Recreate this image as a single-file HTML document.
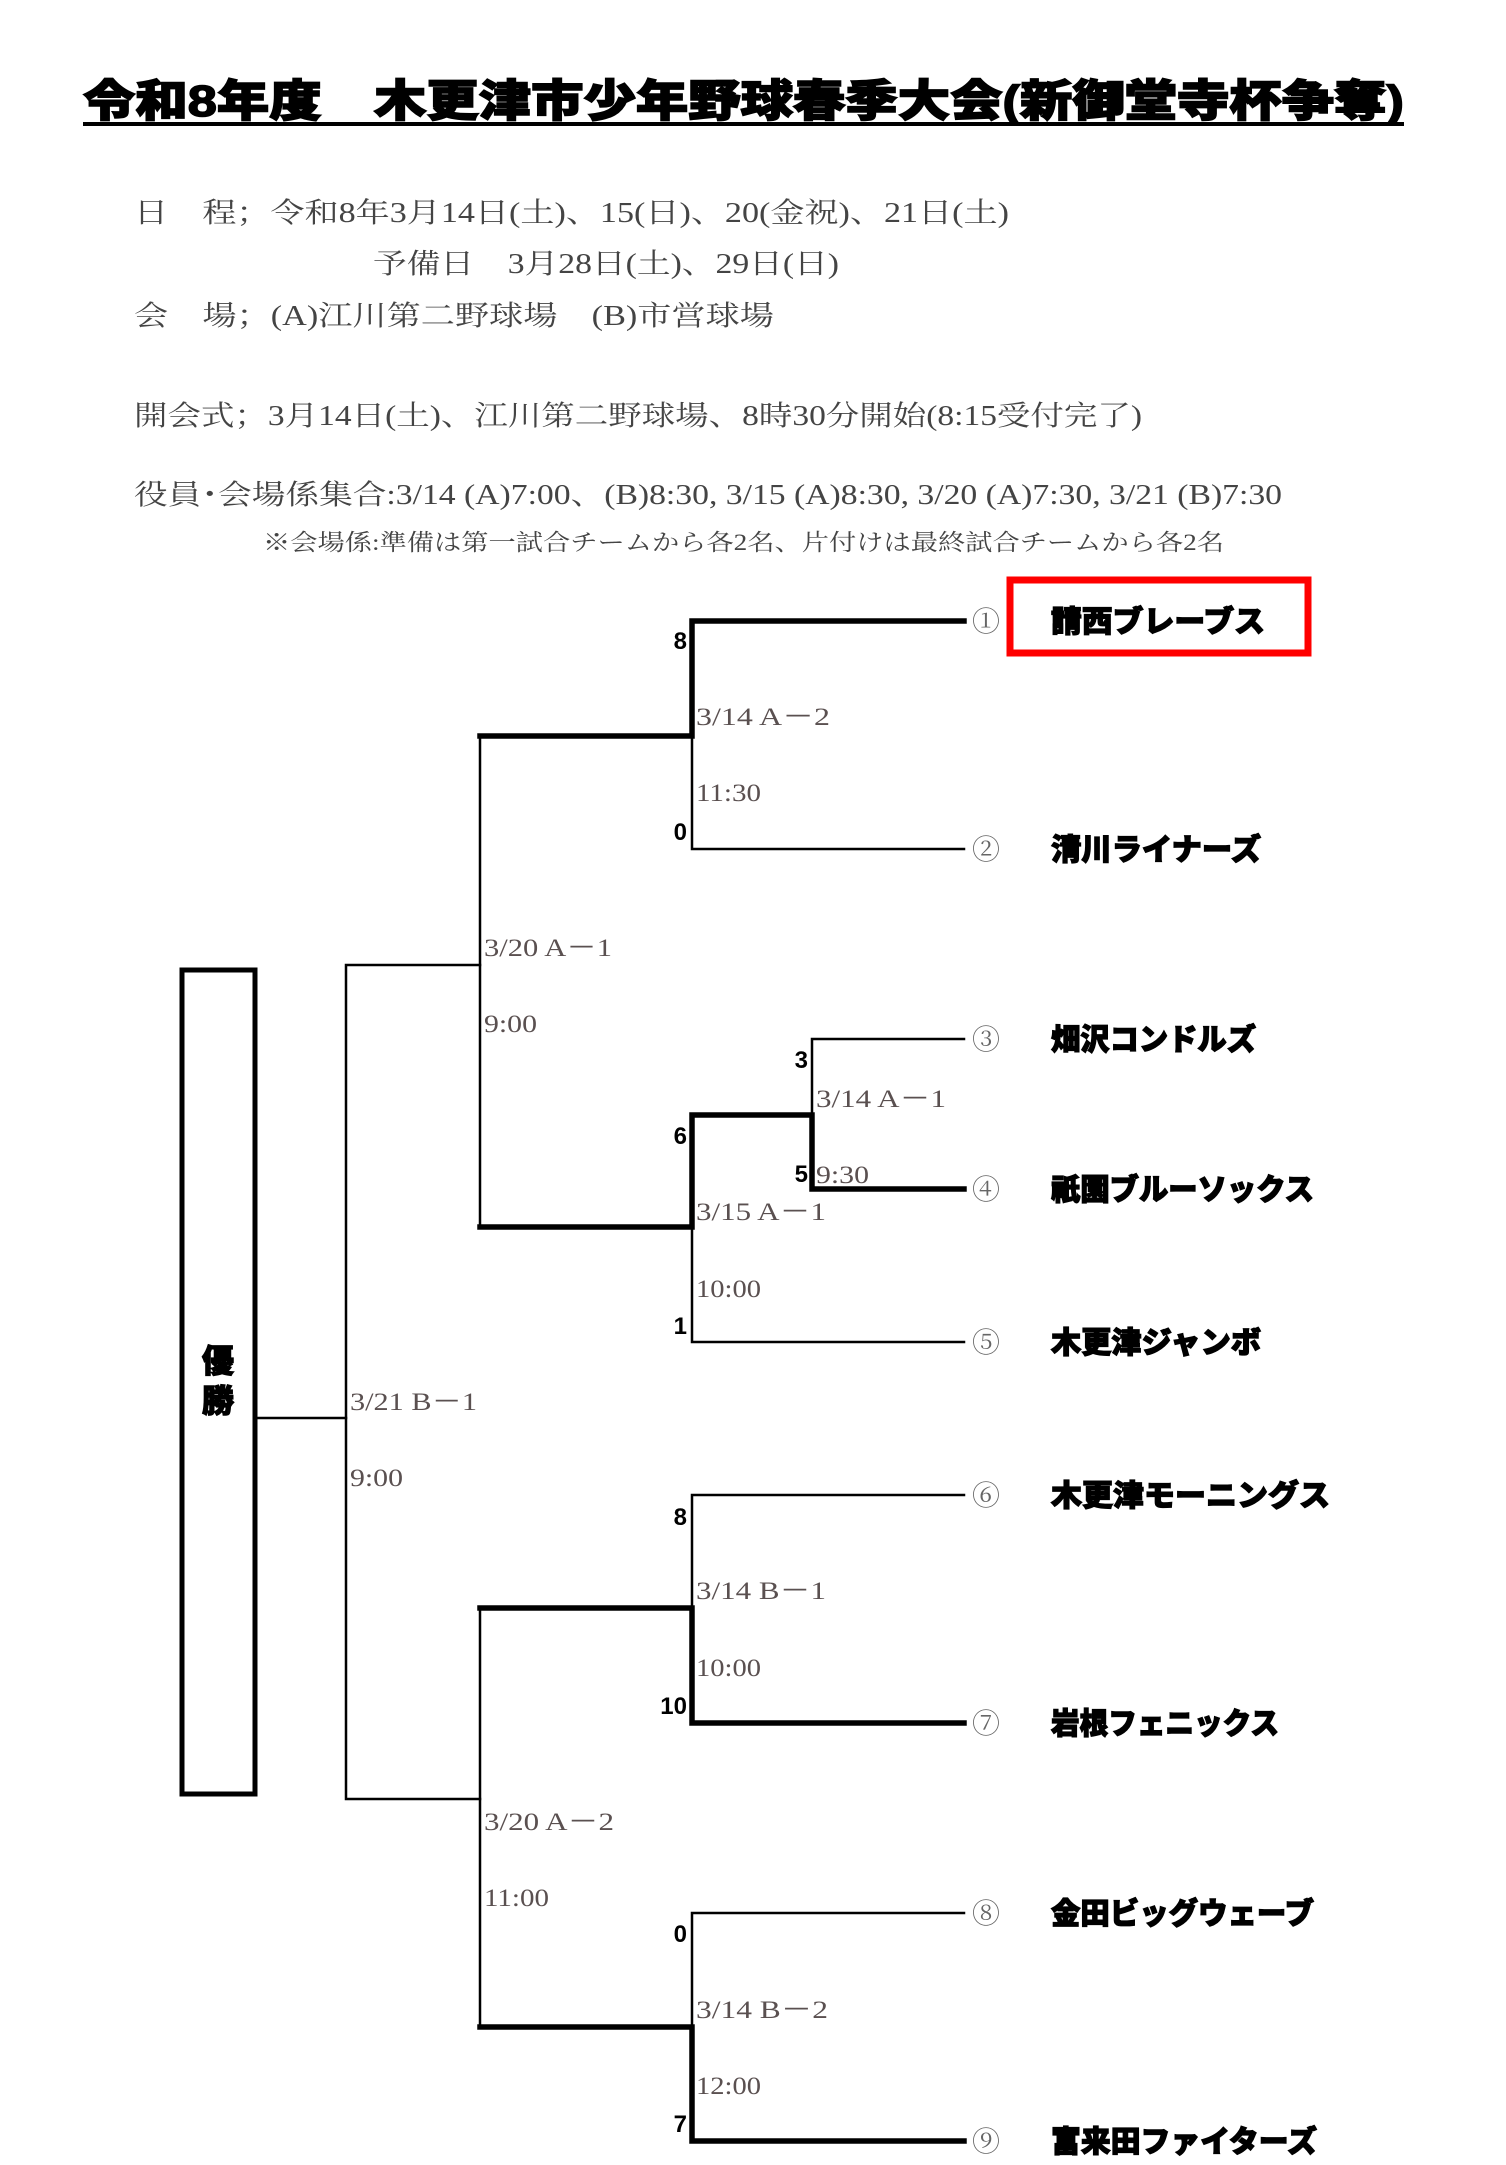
<!DOCTYPE html>
<html><head><meta charset="utf-8"><style>
html,body{margin:0;padding:0;background:#fff;}
svg{display:block;}
.h{font-family:"Liberation Serif","Noto Serif CJK SC","Noto Sans CJK JP",serif;fill:#444;font-size:28px;}
.t{font-family:"Liberation Sans","Noto Sans CJK JP",sans-serif;font-weight:900;fill:#000;font-size:30px;stroke:#000;stroke-width:1.2;}
.l{font-family:"Liberation Serif",serif;fill:#5a5050;font-size:25px;}
.s{font-family:"Liberation Sans",sans-serif;font-weight:bold;fill:#000;font-size:24px;}
.c{font-family:"Liberation Serif","Noto Serif CJK SC",serif;fill:#666;font-size:28px;}
</style></head><body>
<svg width="1506" height="2165" viewBox="0 0 1506 2165" xmlns="http://www.w3.org/2000/svg">
<text x="83" y="116" textLength="1321" lengthAdjust="spacingAndGlyphs" style="font-family:'Liberation Sans','Noto Sans CJK JP',sans-serif;font-weight:900;font-size:44px;stroke:#000;stroke-width:1.5">令和8年度　木更津市少年野球春季大会(新御堂寺杯争奪)</text>
<rect x="83" y="122" width="1321" height="4" fill="#000"/>
<text class="h" x="134" y="222" textLength="875" lengthAdjust="spacingAndGlyphs">日　程；令和8年3月14日(土)、15(日)、20(金祝)、21日(土)</text>
<text class="h" x="373" y="273" textLength="466" lengthAdjust="spacingAndGlyphs">予備日　3月28日(土)、29日(日)</text>
<text class="h" x="134" y="325" textLength="640" lengthAdjust="spacingAndGlyphs">会　場；(A)江川第二野球場　(B)市営球場</text>
<text class="h" x="134" y="425" textLength="1008" lengthAdjust="spacingAndGlyphs">開会式；3月14日(土)、江川第二野球場、8時30分開始(8:15受付完了)</text>
<text class="h" x="134" y="504" textLength="1148" lengthAdjust="spacingAndGlyphs">役員･会場係集合:3/14 (A)7:00、(B)8:30, 3/15 (A)8:30, 3/20 (A)7:30, 3/21 (B)7:30</text>
<text class="h" x="263" y="550" textLength="961" lengthAdjust="spacingAndGlyphs" style="font-size:23px">※会場係:準備は第一試合チームから各2名、片付けは最終試合チームから各2名</text>

<rect x="1010" y="580" width="298" height="73" fill="none" stroke="#f00" stroke-width="7"/>

<g stroke="#000" fill="none" stroke-linecap="square">
<!-- thin -->
<g stroke-width="2.5">
<path d="M692 736 V849 H964"/>
<path d="M812 1115 V1039 H964"/>
<path d="M692 1227 V1342 H964"/>
<path d="M480 736 V1227"/>
<path d="M480 965 H346 V1799 H480"/>
<path d="M256 1418 H346"/>
<path d="M692 1608 V1495 H964"/>
<path d="M692 2027 V1913 H964"/>
<path d="M480 1608 V2027"/>
</g>
<g stroke-width="5.5">
<path d="M964 621 H692 V736 H480"/>
<path d="M964 1189 H812 V1115 H692 V1227 H480"/>
<path d="M964 1723 H692 V1608 H480"/>
<path d="M964 2141 H692 V2027 H480"/>
</g>
<rect x="182" y="970" width="73" height="824" stroke-width="5"/>
</g>

<text class="t" x="218" y="1372" text-anchor="middle" style="font-size:32px">優</text>
<text class="t" x="218" y="1412" text-anchor="middle" style="font-size:32px">勝</text>

<g class="c" text-anchor="middle">
<text x="986" y="631">①</text><text x="986" y="859">②</text><text x="986" y="1049">③</text>
<text x="986" y="1199">④</text><text x="986" y="1352">⑤</text><text x="986" y="1505">⑥</text>
<text x="986" y="1733">⑦</text><text x="986" y="1923">⑧</text><text x="986" y="2151">⑨</text>
</g>
<g class="t">
<text x="1051" y="632" textLength="214" lengthAdjust="spacingAndGlyphs">請西ブレーブス</text>
<text x="1051" y="860" textLength="210" lengthAdjust="spacingAndGlyphs">清川ライナーズ</text>
<text x="1051" y="1050" textLength="205" lengthAdjust="spacingAndGlyphs">畑沢コンドルズ</text>
<text x="1051" y="1200" textLength="263" lengthAdjust="spacingAndGlyphs">祇園ブルーソックス</text>
<text x="1051" y="1353" textLength="210" lengthAdjust="spacingAndGlyphs">木更津ジャンボ</text>
<text x="1051" y="1506" textLength="279" lengthAdjust="spacingAndGlyphs">木更津モーニングス</text>
<text x="1051" y="1734" textLength="228" lengthAdjust="spacingAndGlyphs">岩根フェニックス</text>
<text x="1051" y="1924" textLength="263" lengthAdjust="spacingAndGlyphs">金田ビッグウェーブ</text>
<text x="1051" y="2152" textLength="266" lengthAdjust="spacingAndGlyphs">富来田ファイターズ</text>
</g>
<g class="s" text-anchor="end">
<text x="687" y="649">8</text><text x="687" y="840">0</text>
<text x="808" y="1068">3</text><text x="808" y="1182">5</text>
<text x="687" y="1144">6</text><text x="687" y="1334">1</text>
<text x="687" y="1525">8</text><text x="687" y="1714">10</text>
<text x="687" y="1942">0</text><text x="687" y="2132">7</text>
</g>
<g class="l">
<text x="696" y="725" textLength="134" lengthAdjust="spacingAndGlyphs">3/14 A－2</text>
<text x="696" y="801" textLength="65" lengthAdjust="spacingAndGlyphs">11:30</text>
<text x="484" y="956" textLength="128" lengthAdjust="spacingAndGlyphs">3/20 A－1</text>
<text x="484" y="1032" textLength="53" lengthAdjust="spacingAndGlyphs">9:00</text>
<text x="816" y="1107" textLength="130" lengthAdjust="spacingAndGlyphs">3/14 A－1</text>
<text x="816" y="1183" textLength="53" lengthAdjust="spacingAndGlyphs">9:30</text>
<text x="696" y="1220" textLength="130" lengthAdjust="spacingAndGlyphs">3/15 A－1</text>
<text x="696" y="1297" textLength="65" lengthAdjust="spacingAndGlyphs">10:00</text>
<text x="350" y="1410" textLength="127" lengthAdjust="spacingAndGlyphs">3/21 B－1</text>
<text x="350" y="1486" textLength="53" lengthAdjust="spacingAndGlyphs">9:00</text>
<text x="696" y="1599" textLength="130" lengthAdjust="spacingAndGlyphs">3/14 B－1</text>
<text x="696" y="1676" textLength="65" lengthAdjust="spacingAndGlyphs">10:00</text>
<text x="484" y="1830" textLength="130" lengthAdjust="spacingAndGlyphs">3/20 A－2</text>
<text x="484" y="1906" textLength="65" lengthAdjust="spacingAndGlyphs">11:00</text>
<text x="696" y="2018" textLength="132" lengthAdjust="spacingAndGlyphs">3/14 B－2</text>
<text x="696" y="2094" textLength="65" lengthAdjust="spacingAndGlyphs">12:00</text>
</g>
</svg>
</body></html>
